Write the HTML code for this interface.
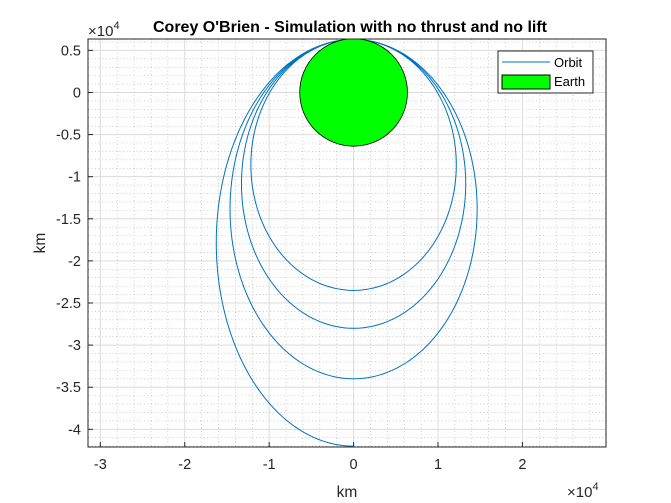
<!DOCTYPE html>
<html><head><meta charset="utf-8"><style>
html,body{margin:0;padding:0;background:#fff;}
svg{display:block;font-family:"Liberation Sans",Arial,sans-serif;}
</style></head><body>
<svg id="chart" width="671" height="503" viewBox="0 0 671 503">
<rect x="0" y="0" width="671" height="503" fill="#fff"/>
<g id="grid"></g>
<g id="ticks"></g>
<clipPath id="clip"><rect x="88" y="39" width="518" height="408"/></clipPath>
<g id="plot" clip-path="url(#clip)"></g>
<rect x="88" y="39" width="518" height="408" fill="none" stroke="#262626" stroke-width="1"/>
<text x="350" y="32" text-anchor="middle" font-size="16" font-weight="bold" fill="#000">Corey O'Brien - Simulation with no thrust and no lift</text>
<text x="88" y="36" font-size="15" fill="#262626">×10<tspan dy="-7" font-size="11">4</tspan></text>
<text x="567" y="497" font-size="15" fill="#262626">×10<tspan dy="-7" font-size="11">4</tspan></text>
<text x="347" y="497" text-anchor="middle" font-size="15.5" fill="#262626">km</text>
<text transform="translate(45,243) rotate(-90)" text-anchor="middle" font-size="15.5" fill="#262626">km</text>
<g>
<rect x="498" y="51" width="95" height="42" fill="#fff" stroke="#262626" stroke-width="1"/>
<line x1="502" y1="62" x2="550" y2="62" stroke="#0072BD" stroke-width="1"/>
<text x="554" y="67" font-size="13" fill="#000">Orbit</text>
<rect x="502" y="75" width="48" height="14" fill="#00ff00" stroke="#000" stroke-width="1"/>
<text x="554" y="86" font-size="13" fill="#000">Earth</text>
</g>
</svg>
<script>
// data (units of 10^4 km)
const xTicks = [-3, -2, -1, 0, 1, 2];
const yTicks = [0.5, 0, -0.5, -1, -1.5, -2, -2.5, -3, -3.5, -4];
const yTickLabels = ["0.5","0","-0.5","-1","-1.5","-2","-2.5","-3","-3.5","-4"];
const periapsis = 0.63;
const leftArcApoapsis = [4.2, 3.4, 2.8, 2.35];
const rightArcApoapsis = [3.4, 2.8, 2.35];
const earthRadius = 0.6378;
const xDomain = [-3.146, 2.99];
const yDomain = [-4.21, 0.635];

const L=88,R=606,T=39,B=447;
const sx=v=>L+(v-xDomain[0])/(xDomain[1]-xDomain[0])*(R-L);
const sy=v=>B-(v-yDomain[0])/(yDomain[1]-yDomain[0])*(B-T);
const NS="http://www.w3.org/2000/svg";
function mk(tag,attrs,parent){const e=document.createElementNS(NS,tag);for(const k in attrs)e.setAttribute(k,attrs[k]);parent.appendChild(e);return e;}
const grid=document.getElementById('grid'),ticks=document.getElementById('ticks'),plot=document.getElementById('plot');

for(let v=-3.2;v<=3.0;v+=0.2){const x=sx(v);if(x<L||x>R)continue;
 const g=mk('line',{x1:x,y1:T,x2:x,y2:B,stroke:'#b0b0b0','stroke-width':0.6,'stroke-dasharray':'1,2.5'},grid);
 
 }
for(let v=-4.2;v<=0.7;v+=0.1){const y=sy(v);if(y<T||y>B)continue;
 const g=mk('line',{x1:L,y1:y,x2:R,y2:y,stroke:'#b0b0b0','stroke-width':0.6,'stroke-dasharray':'1,2.5'},grid);
 
 }
xTicks.forEach(v=>{const x=sx(v);
 const g=mk('line',{x1:x,y1:T,x2:x,y2:B,stroke:'#dcdcdc','stroke-width':1},grid);
 
 
 mk('line',{x1:x,y1:B,x2:x,y2:B-5,stroke:'#262626'},ticks);
 const t=mk('text',{x:x,y:B+22,'text-anchor':'middle','font-size':14.5,fill:'#262626'},ticks);t.textContent=String(v);
 
 });
yTicks.forEach((v,i)=>{const y=sy(v);
 const g=mk('line',{x1:L,y1:y,x2:R,y2:y,stroke:'#dcdcdc','stroke-width':1},grid);
 
 
 mk('line',{x1:L,y1:y,x2:L+5,y2:y,stroke:'#262626'},ticks);
 const t=mk('text',{x:L-7,y:y+5,'text-anchor':'end','font-size':14.5,fill:'#262626'},ticks);t.textContent=yTickLabels[i];
 
 });

function halfArc(ra,side){const rp=periapsis,a=(rp+ra)/2,b=Math.sqrt(rp*ra),cy=rp-a;const pts=[];
 for(let i=0;i<=120;i++){const th=Math.PI*i/120;const x=side*b*Math.sin(th);const y=cy+a*Math.cos(th);pts.push(sx(x).toFixed(2)+','+sy(y).toFixed(2));}
 return pts;}
let d='';
for(let k=0;k<leftArcApoapsis.length;k++){
 const lp=halfArc(leftArcApoapsis[k],-1).reverse();
 d+='M'+lp.join(' L');
 if(k<rightArcApoapsis.length){const rpts=halfArc(rightArcApoapsis[k],1);d+=' M'+rpts.join(' L')+' ';}
}
const orbit=mk('path',{d:d,fill:'none',stroke:'#0072BD','stroke-width':1},plot);



const earth=mk('ellipse',{cx:sx(0),cy:sy(0),rx:sx(earthRadius)-sx(0),ry:sy(0)-sy(earthRadius),fill:'#00ff00',stroke:'#000','stroke-width':0.8},plot);


</script>
</body></html>
